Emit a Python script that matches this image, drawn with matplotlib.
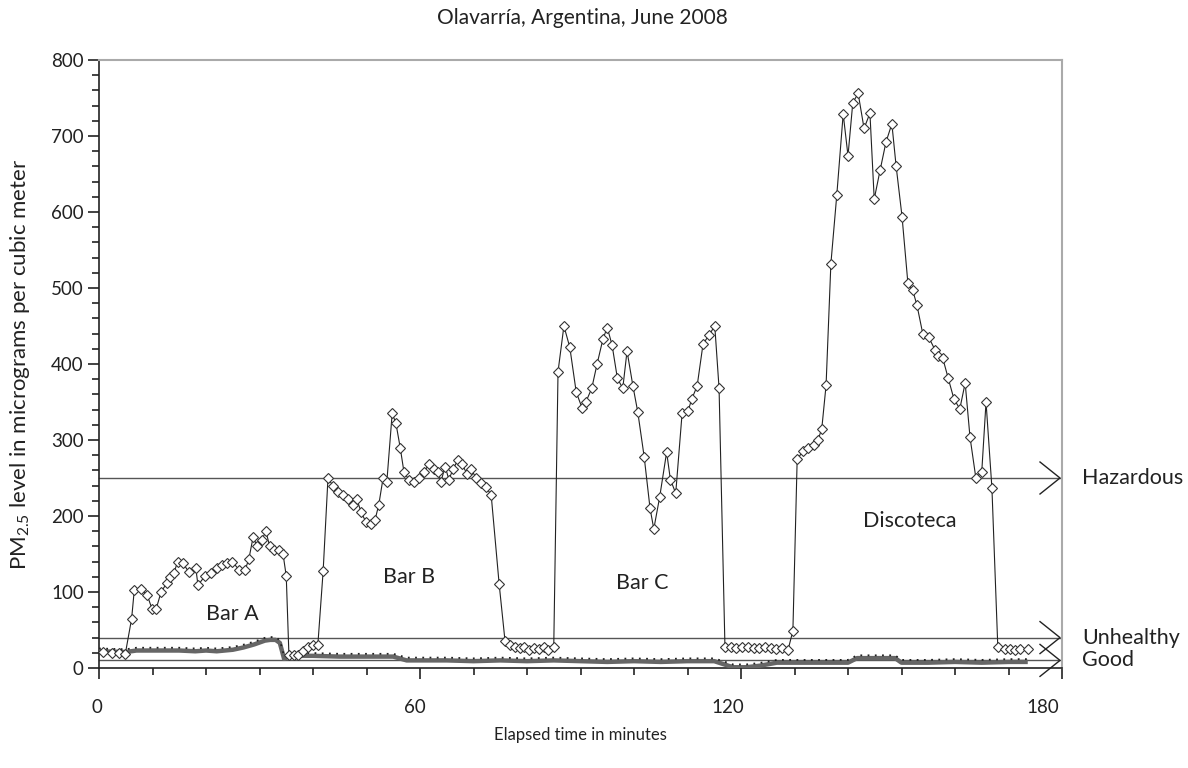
import matplotlib
matplotlib.use("Agg")
import matplotlib.pyplot as plt
from matplotlib.transforms import offset_copy, ScaledTranslation
from matplotlib.ticker import MultipleLocator

plt.rcParams['font.family'] = ['Lato', 'DejaVu Sans']
plt.rcParams['mathtext.fontset'] = 'custom'
plt.rcParams['mathtext.rm'] = 'Lato'

# ---------------- data ----------------
# indoor PM2.5 (minutes, µg/m3)
t_indoor = [0.7, 2.4, 3.7, 4.9, 6.1, 6.6, 7.9, 9.0, 9.9, 10.7, 11.6, 12.7, 13.3, 14.0, 14.7,
            15.7, 16.8, 18.1, 18.5, 19.8, 20.9, 22.0, 23.0, 23.9, 24.9, 26.2, 27.3, 28.0, 28.8,
            29.6, 30.4, 31.2, 31.9, 32.8, 33.6, 34.4, 35.0, 35.5, 36.4, 37.2, 38.1, 39.1, 40.0,
            40.9, 41.9,
            42.8, 43.7, 44.7, 45.6, 46.5, 47.5, 48.2, 49.0, 49.9, 50.8, 51.6, 52.3, 53.1, 53.8,
            54.8, 55.5, 56.3, 57.0, 57.9, 58.9, 59.8, 60.7, 61.7, 62.6, 63.4, 63.9, 64.7, 65.4,
            66.2, 67.1, 67.9, 68.8, 69.5, 70.5, 71.4, 72.3, 73.3, 74.8, 75.9,
            76.8, 77.7, 78.6, 79.5, 80.4, 81.3, 82.2, 83.1, 84.0, 85.0,
            85.8, 86.9, 88.0, 89.2, 90.3, 91.0, 92.1, 93.1, 94.2, 95.0, 95.9, 96.9, 97.9, 98.7,
            99.8, 100.7, 101.9, 103.0, 103.7, 104.8, 106.1, 106.8, 107.8, 109.0, 110.1, 110.8,
            111.8, 112.9, 114.0, 115.1, 115.9,
            117.0, 118.1, 119.1, 120.2, 121.3, 122.4, 123.4, 124.5, 125.6, 126.6, 127.7, 128.8,
            129.7,
            130.5, 131.6, 132.5, 133.6, 134.4, 135.1, 135.9, 136.8, 137.9, 139.1, 140.0, 140.9,
            141.9, 143.0, 144.1, 144.9, 146.0, 147.1, 148.2, 149.0, 150.1, 151.2, 152.1, 152.9,
            154.0, 155.1, 156.3, 156.8, 157.7, 158.7, 159.8, 160.9, 161.9, 162.8, 163.9, 165.0,
            165.8, 166.9, 168.0, 169.3, 170.3, 171.2, 172.2, 173.6]
pm_indoor = [21, 20, 20, 18, 65, 103, 104, 96, 78, 78, 100, 112, 120, 125, 140,
             138, 126, 131, 109, 121, 125, 131, 135, 138, 140, 129, 129, 143, 172,
             160, 168, 180, 160, 155, 155, 150, 121, 17, 17, 17, 22, 28, 30,
             30, 128,
             250, 240, 232, 228, 222, 215, 222, 205, 192, 190, 195, 215, 250, 245,
             335, 322, 290, 258, 248, 245, 250, 258, 268, 262, 258, 245, 265, 248,
             262, 274, 268, 255, 262, 250, 243, 238, 228, 110, 35,
             30, 28, 26, 27, 24, 26, 25, 27, 24, 28,
             390, 450, 422, 363, 342, 350, 368, 400, 433, 448, 425, 381, 368, 417,
             371, 337, 278, 210, 183, 225, 284, 248, 230, 336, 338, 354,
             371, 426, 438, 450, 368,
             28, 27, 26, 27, 27, 26, 26, 27, 26, 25, 26, 24,
             49,
             275, 285, 290, 293, 300, 315, 372, 532, 622, 729, 674, 744,
             756, 710, 730, 617, 655, 692, 716, 660, 594, 506, 497, 477,
             439, 435, 418, 411, 408, 382, 354, 341, 375, 304, 250, 258,
             350, 237, 28, 25, 25, 24, 25, 25]

# background / outdoor PM2.5
t_outdoor = [0, 5, 7, 12, 15, 18, 20, 22, 25, 27, 29, 31, 32, 33, 33.8, 34.6, 35.7, 38, 40,
             45, 50, 55, 57.5, 60, 65, 70, 75, 80, 85, 90, 95, 100, 105, 110, 115, 118.5,
             121, 123.5, 126.7, 130, 135, 140, 141.7, 145, 148.8, 150, 155, 160, 165, 170, 173.6]
pm_outdoor = [22, 21, 23, 23, 23, 22, 23, 22, 24, 27, 31, 36, 37, 37, 33, 12, 16, 16, 16,
              15, 15, 15, 10, 10, 10, 9, 10, 9, 10, 9, 8, 9, 8, 9, 9, 1,
              1, 3, 7, 7, 7, 7, 13, 13, 13, 7, 7, 8, 7, 8, 8]

thresholds = [250, 40, 10]
threshold_labels = ["Hazardous", "Unhealthy", "Good"]

venue_labels = ["Bar A", "Bar B", "Bar C", "Discoteca"]
venue_t = [25, 58, 101.5, 151.5]
venue_pm = [71, 120, 112, 193]

x_ticks = [0, 60, 120, 180]
y_ticks = [0, 100, 200, 300, 400, 500, 600, 700, 800]

# ---------------- figure ----------------
W, H, DPI = 1188, 768, 100
fig = plt.figure(figsize=(W / DPI, H / DPI), dpi=DPI)
ax_l, ax_r, ax_b, ax_t = 99, 1062, 668, 60
ax = fig.add_axes([ax_l / W, 1 - ax_b / H, (ax_r - ax_l) / W, (ax_b - ax_t) / H])
ax.set_xlim(0, 180)
ax.set_ylim(0, 800)

px_x = 180 / (ax_r - ax_l)   # data units per pixel
px_y = 800 / (ax_b - ax_t)

# threshold lines with open arrowheads
tip = 180 - 2 * px_x
for yv, lab in zip(thresholds, threshold_labels):
    ax.plot([0, tip], [yv, yv], color='#555555', lw=1.0, zorder=2, clip_on=False)
    ax.plot([tip - 20 * px_x, tip, tip - 20 * px_x],
            [yv + 16 * px_y, yv, yv - 16 * px_y],
            color='#222222', lw=1.0, zorder=2, clip_on=False)
    ax.text(180 + 20 * px_x, yv, lab, fontsize=15.5, color='#222222',
            ha='left', va='center', clip_on=False)

# outdoor series: thick gray + dotted dark overlay
ax.plot(t_outdoor, pm_outdoor, color='#666666', lw=3.2, zorder=3, solid_capstyle='butt')
tr = offset_copy(ax.transData, fig=fig, x=0, y=2.0, units='points')
ax.plot(t_outdoor, pm_outdoor, color='#222222', lw=1.3, ls=(0, (1, 3)), zorder=3, transform=tr)

# indoor series
ax.plot(t_indoor, pm_indoor, color='#222222', lw=0.8, marker='D', markersize=5,
        markerfacecolor='white', markeredgecolor='#333333', markeredgewidth=0.8, zorder=4)

for lab, tx, ty in zip(venue_labels, venue_t, venue_pm):
    ax.text(tx, ty, lab, fontsize=15.5, color='#222222', ha='center', va='center')

# axes styling
for s in ['top', 'right']:
    ax.spines[s].set_color('#aaaaaa')
    ax.spines[s].set_linewidth(1.5)
for s in ['left', 'bottom']:
    ax.spines[s].set_color('#222222')
    ax.spines[s].set_linewidth(1.2)

ax.set_xticks(x_ticks)
ax.set_yticks(y_ticks)
ax.xaxis.set_minor_locator(MultipleLocator(10))
ax.yaxis.set_minor_locator(MultipleLocator(20))
ax.tick_params(axis='both', which='major', direction='out', length=8, width=1.2,
               color='#222222', labelsize=13.5, labelcolor='#222222')
ax.tick_params(axis='both', which='minor', direction='out', length=5, width=1.2, color='#222222')
ax.tick_params(axis='x', which='major', pad=14)
ax.tick_params(axis='y', which='major', pad=3)

# the source draws the x tick labels slightly left of their ticks
label_shift_px = [2, 5, 13, 19]
for lbl, sh in zip(ax.get_xticklabels(), label_shift_px):
    lbl.set_transform(lbl.get_transform() + ScaledTranslation(-sh / DPI, 0, fig.dpi_scale_trans))

ax.set_xlabel("Elapsed time in minutes", fontsize=12, color='#222222', labelpad=8)
ax.set_ylabel("PM$_{2.5}$ level in micrograms per cubic meter", fontsize=16,
              color='#222222', labelpad=14)
fig.text(582 / W, 1 - 18 / H, "Olavarría, Argentina, June 2008", fontsize=15,
         color='#222222', ha='center', va='center')

fig.savefig("out.png", dpi=DPI)
